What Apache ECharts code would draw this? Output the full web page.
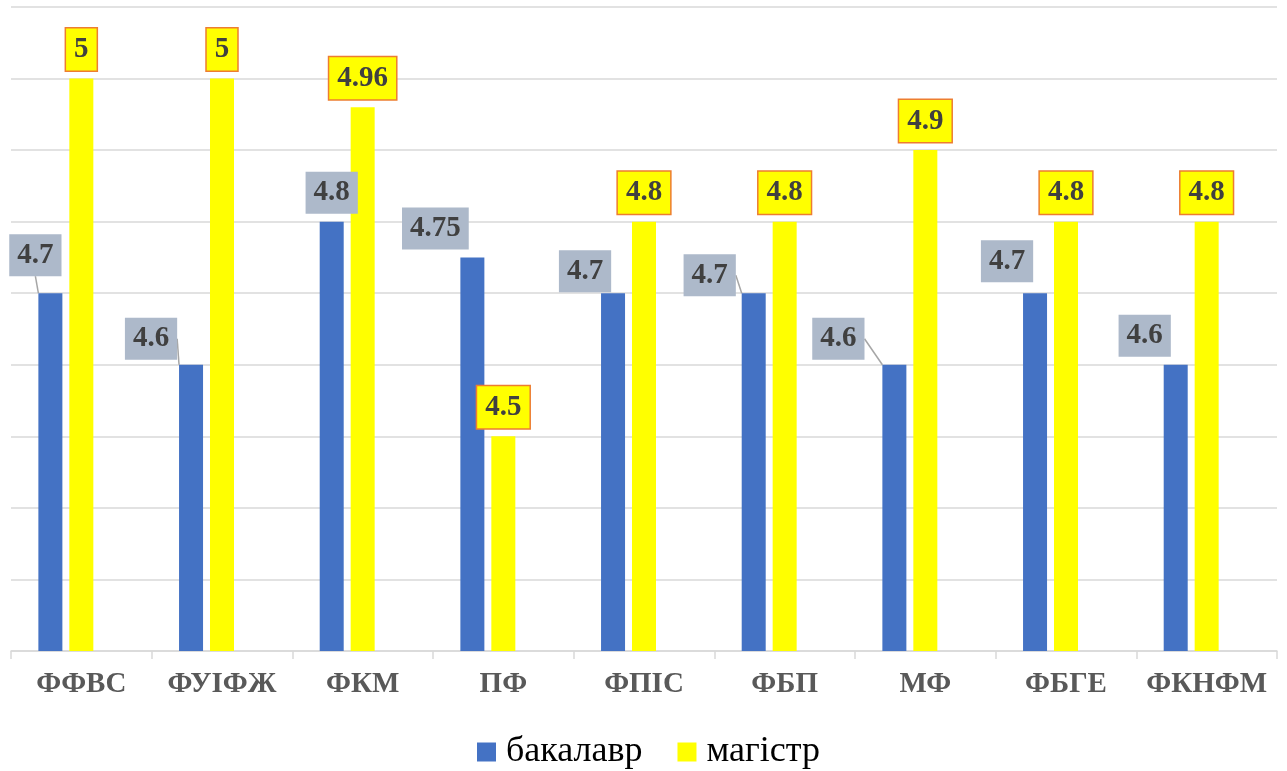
<!DOCTYPE html>
<html>
<head>
<meta charset="utf-8">
<script src="https://cdn.jsdelivr.net/npm/echarts@6/dist/echarts.min.js"></script>
<style>
    html, body { margin: 0; padding: 0; background: #fff; }
    #chart { width: 1287px; height: 771px; }
</style>
</head>
<body>
<div id="chart"></div>
<script>
    // data
    const faculties = ['ФФВС', 'ФУІФЖ', 'ФКМ', 'ПФ', 'ФПІС', 'ФБП', 'МФ', 'ФБГЕ', 'ФКНФМ'];
    const bachelor = [4.7, 4.6, 4.8, 4.75, 4.7, 4.7, 4.6, 4.7, 4.6];
    const master = [5, 5, 4.96, 4.5, 4.8, 4.8, 4.9, 4.8, 4.8];
    const emptySlot = [null, null, null, null, null, null, null, null, null]; // third (empty) series slot of the original chart
    const seriesNames = ['бакалавр', 'магістр'];

    // where the bachelor labels were dragged to (px), and which ones have a leader line
    const bachelorShift = [[-15, -9], [-40, 3], [0, 0], [-37, 0], [-28, 7], [-44, 11], [-56, 3], [-28, -3], [-31, 0]];
    const leader = [true, true, false, false, false, true, true, false, false];

    let chartDom = document.getElementById('chart');
    let myChart = echarts.init(chartDom);

    const labelFont = {
        fontFamily: '"Liberation Serif", "DejaVu Serif", serif',
        fontWeight: 'bold',
        fontSize: 29,
        lineHeight: 30,
        color: '#404040',
        padding: [6, 8, 6, 8]
    };

    let option = {
        backgroundColor: '#fff',
        animation: false,
        grid: {
            left: 11,
            right: 10,
            top: 7,
            bottom: 120
        },
        legend: {
            data: seriesNames,
            left: 472,
            top: 729,
            icon: 'rect',
            itemWidth: 19,
            itemHeight: 19,
            itemGap: 35,
            textStyle: {
                fontFamily: '"Liberation Serif", serif',
                fontSize: 36,
                color: '#000',
                padding: [0, 0, 0, 5]
            }
        },
        xAxis: {
            type: 'category',
            data: faculties,
            axisLine: {
                lineStyle: { color: '#D9D9D9', width: 1.5 }
            },
            axisTick: {
                show: true,
                interval: 0,
                length: 8,
                lineStyle: { color: '#D9D9D9', width: 1.5 }
            },
            axisLabel: {
                interval: 0,
                margin: 19,
                color: '#595959',
                fontFamily: '"Liberation Serif", serif',
                fontWeight: 'bold',
                fontSize: 29
            }
        },
        yAxis: {
            type: 'value',
            min: 4.2,
            max: 5.1,
            interval: 0.1,
            axisLine: { show: false },
            axisTick: { show: false },
            axisLabel: { show: false },
            splitLine: {
                show: true,
                lineStyle: { color: '#D9D9D9', width: 1.5 }
            }
        },
        series: [
            {
                name: seriesNames[0],
                type: 'bar',
                barWidth: 24,
                barGap: '29%',
                itemStyle: { color: '#4472C4' },
                data: bachelor.map((v, i) => ({ value: v, labelLine: { show: leader[i] } })),
                label: Object.assign({
                    show: true,
                    position: 'top',
                    distance: 8,
                    backgroundColor: '#ADB9CA'
                }, labelFont),
                labelLine: {
                    show: false,
                    lineStyle: { color: '#A6A6A6', width: 1.5 }
                },
                labelLayout: function (p) {
                    let s = bachelorShift[p.dataIndex];
                    return { dx: s[0], dy: s[1] };
                }
            },
            {
                name: seriesNames[1],
                type: 'bar',
                barWidth: 24,
                barGap: '29%',
                itemStyle: { color: '#FFFF00' },
                data: master,
                label: Object.assign({
                    show: true,
                    position: 'top',
                    distance: 8,
                    backgroundColor: '#FFFF00',
                    borderColor: '#ED7D31',
                    borderWidth: 1.5
                }, labelFont)
            },
            {
                name: 'ряд3',
                type: 'bar',
                barWidth: 24,
                barGap: '29%',
                data: emptySlot
            }
        ]
    };

    option && myChart.setOption(option);
</script>
</body>
</html>
